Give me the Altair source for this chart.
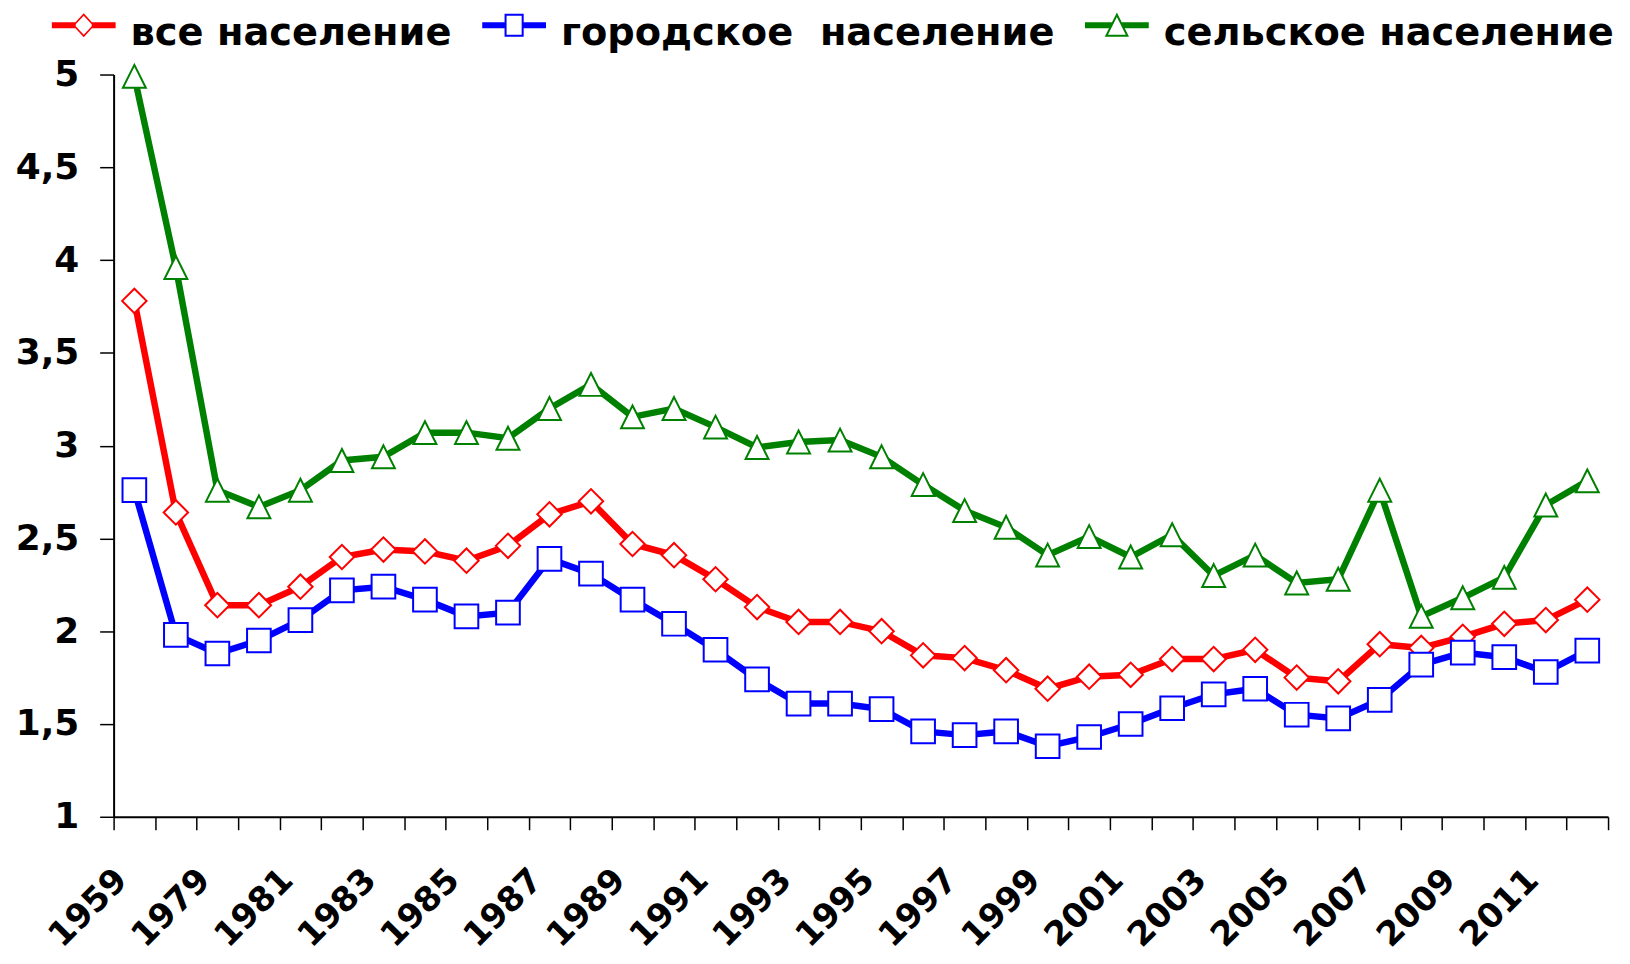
import json
import altair as alt
import pandas as pd

# ---------------- data ----------------
years = ["1959", "1970", "1979", "1980", "1981", "1982", "1983", "1984", "1985",
         "1986", "1987", "1988", "1989", "1990", "1991", "1992", "1993", "1994",
         "1995", "1996", "1997", "1998", "1999", "2000", "2001", "2002", "2003",
         "2004", "2005", "2006", "2007", "2008", "2009", "2010", "2011", "2012"]

shown_labels = ["1959", "1979", "1981", "1983", "1985", "1987", "1989", "1991",
                "1993", "1995", "1997", "1999", "2001", "2003", "2005", "2007",
                "2009", "2011"]

all_pop = [3.78, 2.64, 2.14, 2.14, 2.24, 2.40, 2.44, 2.43, 2.38, 2.46, 2.63, 2.70,
           2.47, 2.41, 2.28, 2.13, 2.05, 2.05, 2.00, 1.87, 1.855, 1.79, 1.69, 1.755,
           1.765, 1.85, 1.85, 1.90, 1.75, 1.73, 1.93, 1.91, 1.97, 2.04, 2.06, 2.17]

urban_pop = [2.76, 1.98, 1.88, 1.95, 2.06, 2.22, 2.24, 2.17, 2.08, 2.10, 2.39, 2.31,
             2.17, 2.04, 1.90, 1.74, 1.61, 1.61, 1.58, 1.46, 1.44, 1.46, 1.38, 1.43,
             1.50, 1.585, 1.66, 1.69, 1.55, 1.53, 1.63, 1.82, 1.885, 1.86, 1.78, 1.895]

rural_pop = [4.99, 3.96, 2.76, 2.67, 2.76, 2.92, 2.94, 3.07, 3.07, 3.04, 3.20, 3.33,
             3.155, 3.20, 3.10, 2.99, 3.02, 3.03, 2.94, 2.79, 2.65, 2.56, 2.41, 2.51,
             2.40, 2.52, 2.30, 2.41, 2.26, 2.28, 2.76, 2.08, 2.18, 2.29, 2.68, 2.81]

series_names = ["все население", "городское\u00a0 население", "сельское население"]
series_colors = ["#FF0000", "#0000FF", "#008000"]
y_ticks = [1, 1.5, 2, 2.5, 3, 3.5, 4, 4.5, 5]

rows = []
for name, vals in zip(series_names, [all_pop, urban_pop, rural_pop]):
    for yr, v in zip(years, vals):
        rows.append({"year": yr, "value": v, "series": name})
df = pd.DataFrame(rows)

# ---------------- styles ----------------
FONT = "DejaVu Sans"
DY = -0.24  # vertical shift of legend symbols (path units)


def poly(points):
    return "M" + "L".join(f"{x:.3f},{y + DY:.3f}" for x, y in points) + "Z"


def stubs(inner_top, inner_bot):
    t = 0.094
    right = [(inner_top, -t), (1, -t), (1, t), (inner_bot, t)]
    left = [(-1, -t), (-inner_top, -t), (-inner_bot, t), (-1, t)]
    return poly(left) + poly(right)


diamond_sym = (stubs(0.25, 0.25)
               + poly([(0, -0.375), (0.344, 0), (0, 0.375), (-0.344, 0)])
               + poly([(0, -0.30), (-0.28, 0), (0, 0.30), (0.28, 0)]))
square_sym = (stubs(0.27, 0.27)
              + poly([(-0.3, -0.36), (0.3, -0.36), (0.3, 0.36), (-0.3, 0.36)])
              + poly([(-0.2375, -0.2975), (-0.2375, 0.2975), (0.2375, 0.2975), (0.2375, -0.2975)]))
triangle_sym = (stubs(0.12, 0.21)
                + poly([(0, -0.4), (0.38, 0.36), (-0.38, 0.36)])
                + poly([(0, -0.26), (-0.279, 0.2975), (0.279, 0.2975)]))

tri_marker = "M0,-1L1,1L-1,1Z"

label_expr_x = "indexof(" + json.dumps(shown_labels) + ", datum.value) >= 0 ? datum.value : ''"

x_enc = alt.X(
    "year:O", sort=years,
    scale=alt.Scale(type="band", paddingInner=0, paddingOuter=0),
    bandPosition=0.5,
    axis=alt.Axis(
        title=None, labelExpr=label_expr_x, labelAngle=-45, labelAlign="right",
        labelBaseline="middle", labelFont=FONT, labelFontWeight="bold",
        labelFontSize=34, labelColor="black", labelPadding=45, labelOffset=-13,
        tickBand="extent", tickSize=13, tickColor="black", tickWidth=1.5,
        domainColor="black", domainWidth=2, grid=False, labelOverlap=False,
        labelFlush=False, labelLimit=300,
    ),
)
y_enc = alt.Y(
    "value:Q",
    scale=alt.Scale(domain=[1, 5], nice=False, zero=False),
    axis=alt.Axis(
        title=None, values=y_ticks,
        labelExpr="replace(format(datum.value, '.1~f'), '.', ',')",
        labelFont=FONT, labelFontWeight="bold", labelFontSize=36, labelColor="black",
        labelPadding=21, tickSize=14, tickColor="black", tickWidth=1.5,
        domainColor="black", domainWidth=2, grid=False,
    ),
)

base = alt.Chart(df).encode(x=x_enc, y=y_enc)

lines = base.mark_line(strokeWidth=6.5).encode(
    color=alt.Color("series:N", scale=alt.Scale(domain=series_names, range=series_colors), legend=None)
)

points = base.mark_point(fill="white", fillOpacity=1, opacity=1, strokeWidth=2).encode(
    stroke=alt.Stroke("series:N", scale=alt.Scale(domain=series_names, range=series_colors), legend=None),
    shape=alt.Shape("series:N", scale=alt.Scale(domain=series_names, range=["diamond", "square", tri_marker]), legend=None),
    size=alt.Size("series:N", scale=alt.Scale(domain=series_names, range=[600, 529, 576]), legend=None),
)

legend_def = dict(
    title=None, orient="none", legendX=-62, legendY=-74, direction="horizontal",
    labelFont=FONT, labelFontWeight="bold", labelFontSize=38.5, labelColor="black",
    symbolSize=4096, symbolStrokeWidth=0, symbolOpacity=1, labelOffset=15,
    columnPadding=30, padding=0, labelLimit=1000, rowPadding=0,
)

legend_layer = alt.Chart(df).transform_filter("datum.value > 100").mark_point(
    filled=True, strokeWidth=0, opacity=1, size=4096
).encode(
    x=x_enc, y=y_enc,
    color=alt.Color("series:N", scale=alt.Scale(domain=series_names, range=series_colors),
                    legend=alt.Legend(**legend_def)),
    shape=alt.Shape("series:N", scale=alt.Scale(domain=series_names, range=[diamond_sym, square_sym, triangle_sym]),
                    legend=alt.Legend(**legend_def)),
)

chart = alt.layer(lines, points, legend_layer).resolve_scale(
    color="independent", shape="independent"
).properties(
    width=1500, height=745,
    autosize=alt.AutoSizeParams(type="none"),
    padding={"left": 106, "top": 65, "right": 14, "bottom": 146},
    background="white",
).configure_view(stroke=None)

chart.save("out.html", embed_options={"renderer": "svg", "actions": False})
